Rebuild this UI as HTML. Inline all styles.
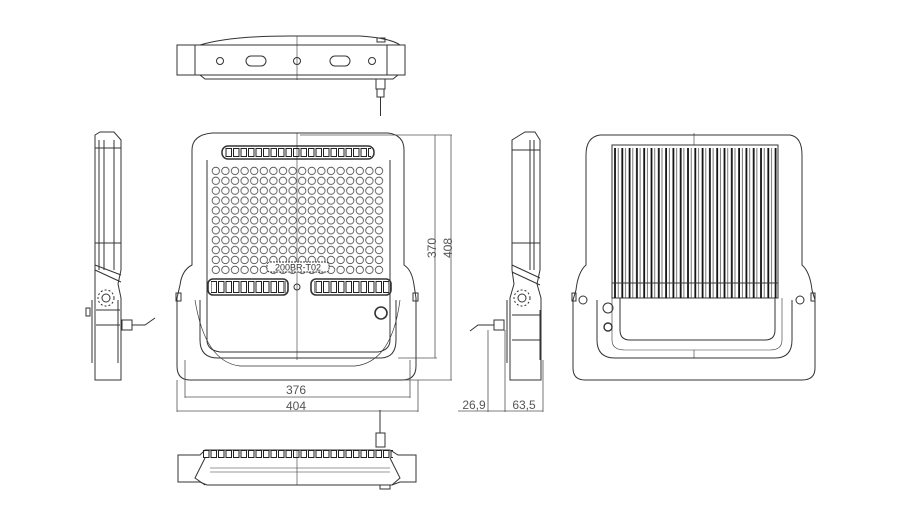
<!DOCTYPE html>
<html><head><meta charset="utf-8"><style>
html,body{margin:0;padding:0;background:#fff;width:900px;height:522px;overflow:hidden}
svg{display:block}
text{font-family:"Liberation Sans",sans-serif;fill:#555;stroke:none}
</style></head><body>
<svg width="900" height="522" viewBox="0 0 900 522" fill="none" stroke="#333" stroke-width="1">
<defs>
<pattern id="leds" x="211" y="166" width="9.6" height="9.9" patternUnits="userSpaceOnUse">
<circle cx="4.8" cy="4.9" r="3.7" stroke="#444" stroke-width="0.8" fill="none"/>
</pattern>
<pattern id="fins" x="613" y="148" width="7.3" height="200" patternUnits="userSpaceOnUse">
<line x1="2" y1="0" x2="2" y2="200" stroke="#111" stroke-width="1.8"/>
<line x1="5.2" y1="0" x2="5.2" y2="200" stroke="#555" stroke-width="0.8"/>
</pattern>
<pattern id="cellsA" x="0" y="148" width="7.5" height="40" patternUnits="userSpaceOnUse">
<rect x="1" y="0.5" width="5.5" height="8" stroke="#222" stroke-width="1" fill="none"/>
</pattern>
<pattern id="cellsB" x="0" y="281" width="7.5" height="40" patternUnits="userSpaceOnUse">
<rect x="1" y="0.5" width="5.5" height="11" stroke="#222" stroke-width="1" fill="none"/>
</pattern>
<pattern id="cellsC" x="0" y="450" width="7.5" height="40" patternUnits="userSpaceOnUse">
<rect x="1" y="0.5" width="5.5" height="7" stroke="#222" stroke-width="1" fill="none"/>
</pattern>
</defs>

<!-- TOP VIEW -->
<path d="M177 45 H405 V75 H177 Z"/>
<path d="M195 45 V75 M387 45 V75"/>
<path d="M200 45 Q230 36 290 36 H360 Q390 38 400 45"/>
<path d="M200 75 L205 79 H393 L398 75"/>
<line x1="297" y1="36" x2="297" y2="80" stroke-width="0.6"/>
<circle cx="220" cy="61" r="3.5"/><circle cx="297" cy="61" r="3.5"/><circle cx="372" cy="61" r="3.5"/>
<rect x="246" y="56" width="20" height="10" rx="5"/><rect x="330" y="56" width="20" height="10" rx="5"/>
<rect x="376" y="79" width="9" height="10"/><rect x="377" y="89" width="7" height="8"/>
<line x1="380.5" y1="97" x2="380.5" y2="116"/>
<rect x="377" y="38" width="8" height="4"/>

<!-- FRONT VIEW -->
<path d="M212 133 H388 Q404 135 404 150 V265 Q412 270 414 285 L416 298 V366 Q416 380 402 380 H190 Q177 380 177 366 V298 L180 285 Q182 270 192 265 V150 Q192 135 212 133 Z"/>
<path d="M200 300 V340 Q200 358 218 358 H380 Q396 358 396 340 V300"/>
<path d="M207 160 V340 Q207 350 220 352 H378 Q390 350 390 340 V160"/>
<path d="M195 300 Q205 362 240 366 H355 Q392 362 400 300" stroke-width="0.7"/>
<line x1="297" y1="133" x2="297" y2="360" stroke-width="0.6"/>
<rect x="222" y="146" width="152" height="13" rx="6" stroke-width="1.5"/>
<rect x="225" y="148" width="146" height="9.5" fill="url(#cellsA)" stroke="none"/>
<rect x="211" y="166" width="173" height="109" fill="url(#leds)" stroke="none"/>
<rect x="267" y="262" width="62" height="10" rx="3" fill="#fff" stroke-dasharray="2 1"/>
<text x="298" y="270.5" font-size="9" text-anchor="middle" style="fill:#333">200BR-T02</text>
<rect x="208" y="279" width="80" height="16" rx="5" stroke-width="1.6"/>
<rect x="311" y="279" width="80" height="16" rx="5" stroke-width="1.6"/>
<rect x="211" y="281" width="75" height="12" fill="url(#cellsB)" stroke="none"/>
<rect x="314" y="281" width="75" height="12" fill="url(#cellsB)" stroke="none"/>
<circle cx="297" cy="287" r="3"/>
<circle cx="381" cy="313" r="6" stroke-width="1.6"/>
<rect x="176" y="293" width="5" height="8"/><rect x="413" y="293" width="5" height="8"/>

<!-- DIMENSIONS front -->
<g stroke="#555" stroke-width="0.8">
<path d="M300 135 H452 M398 358 H437 M404 380 H452 M435 135 V358 M451 135 V380"/>
<path d="M185 360 V398 M410 360 V398 M185 397 H410 M177 380 V412 M418 380 V412 M177 411 H418"/>
</g>
<text x="436" y="248" font-size="12" transform="rotate(-90 436 248)" text-anchor="middle">370</text>
<text x="452" y="248" font-size="12" transform="rotate(-90 452 248)" text-anchor="middle">408</text>
<text x="296" y="394" font-size="12" text-anchor="middle">376</text>
<text x="296" y="410" font-size="12" text-anchor="middle">404</text>

<!-- BOTTOM VIEW -->
<line x1="380" y1="410" x2="380" y2="433"/>
<rect x="376" y="433" width="9" height="14"/>
<path d="M178 455 H200 L205 450 H390 L398 455 H416 V482 H400 L392 485 H207 L200 482 H178 Z"/>
<rect x="203" y="450" width="190" height="8" fill="url(#cellsC)" stroke="none"/>
<path d="M205 458 L195 478 L205 485 M390 458 L400 478 L392 485"/>
<line x1="210" y1="468" x2="390" y2="468" stroke-width="0.6"/>
<line x1="210" y1="472" x2="390" y2="472" stroke-width="0.6"/>
<line x1="297" y1="450" x2="297" y2="485" stroke-width="0.6"/>
<rect x="380" y="485" width="10" height="4"/>

<!-- LEFT SIDE VIEW -->
<path d="M95 135 L100 132 H114 L121 140 V270 L118 284 L121 298 V380 H95 Z"/>
<path d="M99 140 V270 M104 140 V270 M114 140 V270 M95 148 H121 M95 243 H121"/>
<path d="M95 265 L121 275 M95 270 L121 282"/>
<circle cx="106" cy="298" r="4"/><circle cx="106" cy="298" r="8" stroke-dasharray="2 2"/>
<path d="M92 300 V363 M118 300 V363 M96 310 H120 M96 325 H120"/>
<rect x="122" y="320" width="10" height="10"/>
<path d="M132 325 H145 L155 318"/>
<rect x="86" y="308" width="4" height="8"/>

<!-- RIGHT SIDE VIEW -->
<path d="M520 135 L525 132 H535 L540 140 V270 L537 284 L541 298 V380 H510 V298 L514 284 L512 270 V140 Z"/>
<path d="M530 140 V270 M534 140 V270 M512 150 H540 M512 243 H540"/>
<path d="M512 265 L540 278 M512 272 L540 285"/>
<circle cx="522" cy="298" r="4"/><circle cx="522" cy="298" r="8" stroke-dasharray="2 2"/>
<path d="M507 300 V363 M540 310 V360 M512 315 H540 M512 340 H540"/>
<rect x="494" y="320" width="10" height="10"/>
<path d="M494 325 H478 L470 331"/>
<g stroke="#555" stroke-width="0.8">
<path d="M488 330 V412 M505 330 V412 M543 360 V412 M458 411 H543"/>
</g>
<text x="474" y="409" font-size="12" text-anchor="middle">26,9</text>
<text x="524" y="409" font-size="12" text-anchor="middle">63,5</text>

<!-- BACK VIEW -->
<path d="M600 135 H790 Q802 137 802 155 V265 Q810 272 812 290 L815 300 V368 Q815 380 802 380 H585 Q573 380 573 368 V300 L576 290 Q578 272 586 265 V155 Q586 137 600 135 Z"/>
<path d="M597 300 V340 Q597 358 615 358 H775 Q792 358 792 340 V300"/>
<path d="M612 145 H778 V298 H612 Z"/>
<rect x="613" y="148" width="165" height="150" fill="url(#fins)" stroke="none"/>
<line x1="612" y1="283" x2="778" y2="283"/>
<path d="M620 298 V330 Q620 340 630 340 H765 Q775 340 775 330 V298"/>
<path d="M612 298 V340 Q612 350 625 350 H770 Q782 350 782 340 V298" stroke-width="0.6"/>
<circle cx="608" cy="308" r="5"/><circle cx="608" cy="327" r="4" stroke-width="1.4"/>
<circle cx="583" cy="300" r="4"/><circle cx="800" cy="300" r="4"/>
<rect x="572" y="293" width="4" height="8"/><rect x="811" y="293" width="4" height="8"/>
<line x1="694" y1="133" x2="694" y2="145" stroke-width="0.6"/>
<line x1="694" y1="350" x2="694" y2="358" stroke-width="0.6"/>
</svg>
</body></html>
